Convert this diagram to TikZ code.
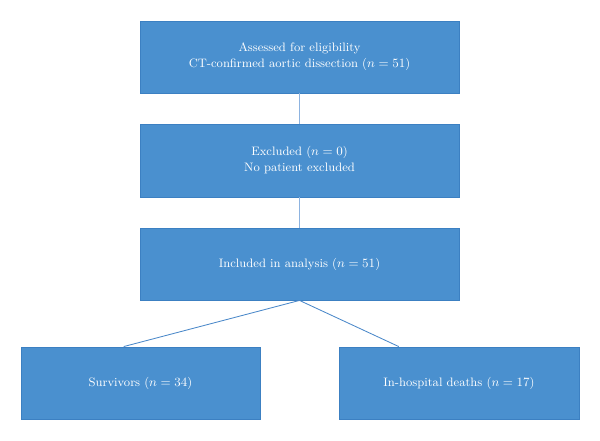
\documentclass[tikz,border=0pt]{standalone}
\usetikzlibrary{calc}
\definecolor{boxBlue}{HTML}{4A90CF}
\definecolor{edgeBlue}{HTML}{3C80C2}
\definecolor{linkLight}{HTML}{8DB3E0}
\definecolor{linkBlue}{HTML}{4A88C9}

\begin{document}
\begin{tikzpicture}[x=0.025cm, y=-0.025cm]

    % --- Canvas ---
    \useasboundingbox (0,0) rectangle (600,441);

    % --- Box style ---
    \tikzstyle{flowbox}=[rectangle, fill=boxBlue, draw=edgeBlue, line width=0.6pt, text=white, align=center, font=\fontsize{8.7}{11.4}\selectfont, minimum height=1.8cm, inner sep=0pt]

    % --- Main column ---
    \node[flowbox, minimum width=7.975cm] (assessed) at (299.5, 57)
        {Assessed for eligibility\\CT-confirmed aortic dissection ($n=51$)};
    \node[flowbox, minimum width=7.975cm, minimum height=1.825cm] (excluded) at (299.5, 160.5)
        {Excluded ($n=0$)\\No patient excluded};
    \node[flowbox, minimum width=7.975cm] (included) at (299.5, 264)
        {Included in analysis ($n=51$)};

    % --- Outcome groups ---
    \node[flowbox, minimum width=5.975cm] (survivors) at (140.5, 383)
        {Survivors ($n=34$)};
    \node[flowbox, minimum width=6cm] (deaths) at (459, 383)
        {In-hospital deaths ($n=17$)};

    % --- Connectors ---
    \draw[linkLight, line width=1pt] (assessed.south) -- (excluded.north);
    \draw[linkLight, line width=1pt] (excluded.south) -- (included.north);

    \coordinate (survTop) at ($(survivors.north west)!0.43!(survivors.north east)$);
    \coordinate (deathTop) at ($(deaths.north west)!0.25!(deaths.north east)$);
    \draw[linkBlue, line width=0.6pt] (included.south) -- (survTop);
    \draw[linkBlue, line width=0.6pt] (included.south) -- (deathTop);

\end{tikzpicture}
\end{document}
